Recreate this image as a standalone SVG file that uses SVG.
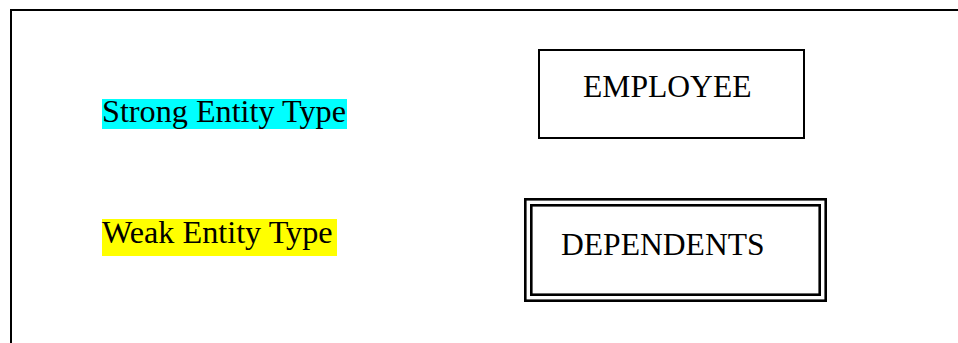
<svg xmlns="http://www.w3.org/2000/svg" width="958" height="343" viewBox="0 0 958 343">
<style>
text{font-family:"Liberation Serif","Times New Roman",serif;fill:#000}
.lbl{font-size:32.2px}
.nd{font-size:31.6px}
.box{fill:none;stroke:#000;stroke-width:2}
.dbl{fill:none;stroke:#000;stroke-width:2.6}
</style>
<rect width="958" height="343" fill="#fff"/>
<path d="M11,343 V10 H958" fill="none" stroke="#000" stroke-width="2"/>
<g id="legend-strong">
<rect x="102" y="99" width="245" height="30" fill="#00ffff"/>
<text class="lbl" x="102" y="122">Strong Entity Type</text>
</g>
<g id="legend-weak">
<rect x="102" y="219" width="235" height="37" fill="#ffff00"/>
<text class="lbl" x="102" y="243">Weak Entity Type</text>
</g>
<g id="employee">
<rect class="box" x="539" y="50" width="265" height="88"/>
<text class="nd" x="583" y="97">EMPLOYEE</text>
</g>
<g id="dependents">
<rect class="dbl" x="525.3" y="199.3" width="300.4" height="101.4"/>
<rect class="dbl" x="531.3" y="205.3" width="288.4" height="89.4"/>
<text class="nd" x="561" y="255">DEPENDENTS</text>
</g>
<g id="connectors"/>
</svg>
